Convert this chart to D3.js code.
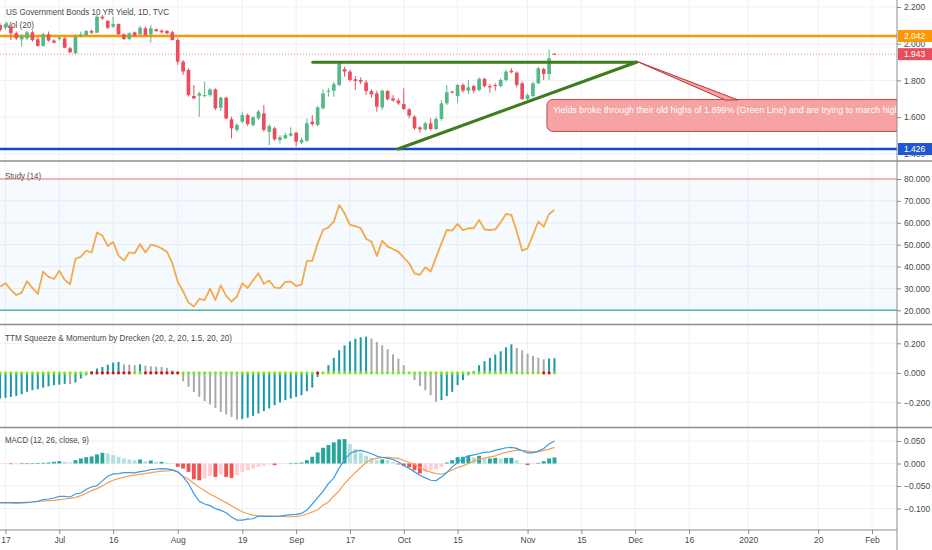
<!DOCTYPE html>
<html lang="en">
<head>
<meta charset="UTF-8">
<title>US Government Bonds 10 YR Yield, 1D, TVC</title>
<script src="https://d3js.org/d3.v7.min.js"></script>
<style>
  body { margin: 0; background: #fff; }
  svg { display: block; font-family: "Liberation Sans", Arial, sans-serif; }
  .axis text { fill: #4a4a4a; font-size: 8.5px; }
  .axis line { stroke: #888; }
  .pane-label { fill: #4a4a4a; font-size: 9px; }
</style>
</head>
<body>
<svg id="chart" width="932" height="550"></svg>
<script>
// ---- data (bar index -1 = Jun 14 2019, 0 = Jun 17, trading days) ----
const firstIndex = -1;

const tickIndex  = [0, 10, 20, 32, 44, 54, 64, 74, 84, 97, 107, 117, 127, 138, 151, 161];
const tickLabels = ["17", "Jul", "16", "Aug", "19", "Sep", "17", "Oct", "15", "Nov", "15", "Dec", "16", "2020", "20", "Feb"];

const opens = [2.102,2.087,2.093,2.057,2.024,2.029,2.062,2.024,1.988,2.051,2.017,2.026,2.029,1.975,1.948,2.042,2.047,2.069,2.060,2.147,
  2.124,2.093,2.107,2.051,2.026,2.062,2.051,2.084,2.051,2.078,2.071,2.069,2.062,2.020,1.902,1.857,1.715,1.717,1.715,1.720,
  1.751,1.651,1.706,1.588,1.530,1.575,1.611,1.557,1.593,1.620,1.520,1.539,1.475,1.484,1.499,1.515,1.461,1.471,1.575,1.557,
  1.648,1.739,1.744,1.775,1.862,1.848,1.806,1.802,1.789,1.742,1.729,1.653,1.742,1.702,1.690,1.671,1.642,1.602,1.544,1.533,
  1.566,1.535,1.590,1.675,1.739,1.715,1.775,1.744,1.769,1.748,1.808,1.769,1.775,1.769,1.802,1.853,1.842,1.784,1.699,1.715,
  1.784,1.862,1.835,1.945];
const highs = [2.111,2.115,2.102,2.066,2.051,2.071,2.071,2.033,2.060,2.066,2.024,2.042,2.035,1.984,2.051,2.066,2.075,2.078,2.157,2.157,
  2.129,2.147,2.111,2.057,2.062,2.066,2.097,2.093,2.102,2.084,2.078,2.075,2.071,2.029,1.911,1.866,1.775,1.739,1.793,1.757,
  1.757,1.711,1.711,1.602,1.566,1.630,1.620,1.606,1.639,1.666,1.562,1.548,1.502,1.515,1.544,1.520,1.490,1.593,1.611,1.660,
  1.751,1.757,1.793,1.906,1.875,1.857,1.824,1.817,1.802,1.751,1.744,1.751,1.748,1.720,1.702,1.757,1.648,1.611,1.551,1.575,
  1.593,1.602,1.693,1.775,1.744,1.780,1.784,1.802,1.777,1.817,1.815,1.780,1.784,1.811,1.860,1.866,1.849,1.793,1.729,1.793,
  1.875,1.869,1.969,1.948];
const lows = [2.066,2.078,2.020,2.020,1.984,2.020,2.011,1.984,1.984,2.011,2.002,2.017,1.975,1.948,1.944,2.035,2.042,2.053,2.057,2.129,
  2.078,2.087,2.047,2.020,2.020,2.038,2.047,2.042,2.006,2.064,2.057,2.051,2.017,1.884,1.830,1.711,1.697,1.602,1.708,1.711,
  1.639,1.633,1.588,1.484,1.520,1.566,1.551,1.548,1.584,1.520,1.448,1.471,1.457,1.479,1.493,1.439,1.453,1.466,1.551,1.551,
  1.642,1.711,1.711,1.769,1.820,1.793,1.748,1.780,1.720,1.706,1.630,1.639,1.690,1.684,1.666,1.639,1.593,1.530,1.515,1.526,
  1.526,1.530,1.580,1.666,1.729,1.679,1.733,1.726,1.729,1.739,1.762,1.733,1.744,1.762,1.793,1.839,1.762,1.693,1.693,1.708,
  1.780,1.802,1.802,1.943];
const closes = [2.075,2.106,2.057,2.029,2.042,2.062,2.020,1.988,2.051,2.017,2.006,2.033,1.978,1.953,2.038,2.051,2.069,2.060,2.147,2.138,
  2.087,2.107,2.051,2.026,2.057,2.044,2.087,2.047,2.084,2.069,2.062,2.057,2.020,1.902,1.848,1.720,1.702,1.729,1.720,1.751,
  1.648,1.706,1.593,1.539,1.557,1.611,1.562,1.599,1.630,1.530,1.551,1.479,1.490,1.502,1.511,1.466,1.475,1.566,1.562,1.653,
  1.729,1.744,1.779,1.893,1.848,1.802,1.797,1.793,1.742,1.724,1.657,1.744,1.697,1.690,1.675,1.644,1.608,1.539,1.533,1.566,
  1.535,1.590,1.675,1.735,1.733,1.775,1.744,1.762,1.744,1.808,1.769,1.762,1.769,1.802,1.848,1.844,1.775,1.699,1.720,1.784,
  1.866,1.835,1.920,1.943];

const priceTicks = [2.2, 2.0, 1.8, 1.6, 1.4];
const priceLevels = [2.042, 1.943, 1.426];          // orange line, last price, blue line
const trendLines = [[57.1, 1.899, 117.2, 1.899], [72.9, 1.426, 117.2, 1.899]];
const noteText = "Yields broke through their old highs of 1.899% (Green Line) and are trying to march higher";

const studyValues = [30.8,32.4,29.3,27.0,28.1,33.3,30.2,27.5,37.7,35.3,34.3,38.1,33.9,31.9,43.5,44.5,47.3,46.4,55.6,54.1,
  49.4,51.2,45.0,42.7,46.5,46.1,50.3,46.4,50.0,49.4,48.3,46.8,41.5,33.1,28.6,23.5,21.7,25.2,24.7,29.9,
  24.7,31.4,26.6,24.0,26.3,32.4,30.2,33.7,36.9,32.1,33.6,30.4,30.1,33.0,33.1,31.1,31.7,42.6,42.6,50.6,
  56.7,57.9,60.5,68.1,64.3,59.0,58.5,57.5,52.6,51.4,44.8,51.8,49.1,48.0,46.7,44.1,41.5,36.9,36.2,39.7,
  37.7,44.2,50.6,56.7,56.4,59.5,56.6,57.5,57.5,61.3,57.0,56.7,57.0,60.2,64.0,63.6,56.0,47.3,48.3,54.4,
  60.5,58.2,64.0,65.8];
const studyTicks = [80, 70, 60, 50, 40, 30, 20];

const ttmValues = [-0.173,-0.169,-0.162,-0.155,-0.144,-0.128,-0.117,-0.110,-0.099,-0.090,-0.083,-0.079,-0.074,-0.076,-0.065,-0.038,-0.016,0.011,0.029,0.040,
  0.056,0.070,0.074,0.058,0.056,0.052,0.058,0.049,0.045,0.043,0.040,0.034,0.018,0.007,-0.056,-0.094,-0.128,-0.162,-0.191,-0.213,
  -0.236,-0.263,-0.281,-0.297,-0.315,-0.312,-0.303,-0.290,-0.274,-0.258,-0.240,-0.218,-0.200,-0.184,-0.173,-0.162,-0.151,-0.124,-0.099,-0.027,
  0.007,0.052,0.101,0.153,0.186,0.213,0.231,0.240,0.245,0.231,0.209,0.186,0.160,0.126,0.097,0.052,0.007,-0.049,-0.088,-0.117,
  -0.151,-0.195,-0.184,-0.157,-0.128,-0.083,-0.049,-0.016,0.013,0.052,0.079,0.101,0.124,0.146,0.173,0.193,0.169,0.153,0.130,0.115,
  0.103,0.092,0.097,0.099];
const squeezeOn = [16,17,18,19,20,21,22,23,26,27,28,29,30,31,32,58,100,101];
const ttmTicks = [0.2, 0, -0.2];

const macdValues = [-0.0870,-0.0870,-0.0870,-0.0870,-0.0870,-0.0863,-0.0856,-0.0841,-0.0804,-0.0789,
  -0.0766,-0.0729,-0.0729,-0.0744,-0.0677,-0.0655,-0.0573,-0.0521,-0.0491,-0.0387,
  -0.0283,-0.0231,-0.0223,-0.0201,-0.0201,-0.0208,-0.0179,-0.0164,-0.0134,-0.0126,
  -0.0112,-0.0119,-0.0141,-0.0186,-0.0298,-0.0446,-0.0670,-0.0841,-0.0900,-0.0937,
  -0.1004,-0.1042,-0.1094,-0.1190,-0.1257,-0.1257,-0.1235,-0.1228,-0.1168,-0.1176,
  -0.1176,-0.1176,-0.1168,-0.1153,-0.1138,-0.1131,-0.1109,-0.1034,-0.0900,-0.0759,
  -0.0618,-0.0446,-0.0320,-0.0097,0.0082,0.0223,0.0275,0.0290,0.0260,0.0216,
  0.0164,0.0134,0.0112,0.0089,0.0037,-0.0052,-0.0112,-0.0186,-0.0260,-0.0320,
  -0.0372,-0.0379,-0.0298,-0.0201,-0.0074,0.0015,0.0119,0.0171,0.0193,0.0216,
  0.0246,0.0260,0.0290,0.0320,0.0350,0.0357,0.0335,0.0283,0.0238,0.0238,
  0.0275,0.0335,0.0432,0.0498];
const signalValues = [-0.0878,-0.0878,-0.0878,-0.0885,-0.0878,-0.0870,-0.0856,-0.0841,-0.0833,-0.0826,
  -0.0818,-0.0804,-0.0789,-0.0774,-0.0751,-0.0714,-0.0662,-0.0603,-0.0558,-0.0498,
  -0.0424,-0.0372,-0.0335,-0.0305,-0.0275,-0.0260,-0.0238,-0.0223,-0.0201,-0.0186,
  -0.0171,-0.0164,-0.0149,-0.0186,-0.0283,-0.0350,-0.0446,-0.0528,-0.0603,-0.0684,
  -0.0737,-0.0811,-0.0870,-0.0937,-0.1012,-0.1071,-0.1116,-0.1146,-0.1161,-0.1168,
  -0.1168,-0.1176,-0.1176,-0.1183,-0.1183,-0.1176,-0.1161,-0.1123,-0.1079,-0.1027,
  -0.0930,-0.0856,-0.0722,-0.0603,-0.0446,-0.0320,-0.0201,-0.0089,0.0022,0.0089,
  0.0112,0.0134,0.0134,0.0126,0.0112,0.0067,0.0022,-0.0022,-0.0089,-0.0149,
  -0.0193,-0.0223,-0.0238,-0.0201,-0.0141,-0.0089,-0.0052,0.0000,0.0052,0.0097,
  0.0119,0.0149,0.0171,0.0216,0.0246,0.0275,0.0298,0.0290,0.0275,0.0260,
  0.0260,0.0290,0.0320,0.0357];
const histValues = [-0.0007,-0.0007,-0.0015,-0.0007,0.0000,-0.0007,0.0000,0.0007,0.0015,0.0022,
  0.0037,0.0052,0.0037,0.0022,0.0074,0.0112,0.0141,0.0156,0.0201,0.0238,
  0.0223,0.0186,0.0149,0.0112,0.0089,0.0074,0.0089,0.0052,0.0067,0.0037,
  0.0037,0.0022,0.0000,-0.0074,-0.0112,-0.0186,-0.0350,-0.0372,-0.0335,-0.0275,
  -0.0298,-0.0246,-0.0298,-0.0320,-0.0260,-0.0186,-0.0149,-0.0112,-0.0074,-0.0052,
  -0.0022,-0.0037,-0.0015,-0.0007,0.0000,0.0015,0.0022,0.0074,0.0149,0.0246,
  0.0350,0.0409,0.0469,0.0536,0.0543,0.0432,0.0320,0.0238,0.0171,0.0126,
  0.0074,0.0089,0.0074,0.0037,-0.0022,-0.0052,-0.0089,-0.0149,-0.0223,-0.0186,
  -0.0149,-0.0126,-0.0074,0.0022,0.0074,0.0141,0.0149,0.0171,0.0134,0.0171,
  0.0112,0.0112,0.0126,0.0112,0.0126,0.0126,0.0074,0.0000,-0.0037,-0.0015,
  0.0015,0.0052,0.0112,0.0134];
const macdTicks = [0.05, 0, -0.05, -0.1];

// ---- layout ----
const axisX = 897;
const panes = { main: [0, 161], study: [161, 324.5], ttm: [324.5, 427.5], macd: [427.5, 530] };

const svg = d3.select("#chart");

const x = d3.scaleLinear().domain([0, 161]).range([5.5, 872]);
const step = x(1) - x(0);
const yMain  = d3.scaleLinear().domain([1.4, 2.2]).range([153.8, 7]);
const yStudy = d3.scaleLinear().domain([20, 80]).range([310.3, 179]);
const yTtm   = d3.scaleLinear().domain([-0.2, 0.2]).range([402.5, 343.3]);
const yMacd  = d3.scaleLinear().domain([-0.1, 0.05]).range([508.5, 441]);

const bars = opens.map((o, k) => ({ i: k + firstIndex, o: o, h: highs[k], l: lows[k], c: closes[k] }));
const idx = k => k + firstIndex;

// clip paths per pane
const defs = svg.append("defs");
Object.entries(panes).forEach(([name, [y0, y1]]) => {
  defs.append("clipPath").attr("id", "clip-" + name)
    .append("rect").attr("x", 0).attr("y", y0).attr("width", axisX).attr("height", y1 - y0);
});

// grid
const grid = svg.append("g");
Object.values(panes).forEach(([y0, y1]) => {
  grid.selectAll(null).data(tickIndex).enter().append("line")
    .attr("x1", d => x(d)).attr("x2", d => x(d)).attr("y1", y0).attr("y2", y1)
    .attr("stroke", "#eef1f6");
});
function hGrid(ticks, y) {
  grid.selectAll(null).data(ticks).enter().append("line")
    .attr("x1", 0).attr("x2", axisX).attr("y1", d => y(d)).attr("y2", d => y(d))
    .attr("stroke", "#eef1f6");
}
hGrid(priceTicks, yMain);
hGrid(ttmTicks, yTtm);
hGrid(macdTicks, yMacd);

// study band
svg.append("rect").attr("x", 0).attr("width", axisX)
  .attr("y", yStudy(80)).attr("height", yStudy(20) - yStudy(80))
  .attr("fill", "rgba(33,150,243,0.045)");
hGrid([70, 60, 50, 40, 30], yStudy);

// pane labels (drawn under the marks); widths fitted to the original
function paneLabel(tx, ty, txt, len, size) {
  svg.append("text").attr("class", "pane-label").attr("x", tx).attr("y", ty)
    .style("font-size", size + "px")
    .attr("textLength", len).attr("lengthAdjust", "spacingAndGlyphs")
    .text(txt);
}
paneLabel(6, 15, "US Government Bonds 10 YR Yield, 1D, TVC", 163, 9.6);
paneLabel(6, 28, "Vol (20)", 28, 9.4);
paneLabel(5, 179, "Study (14)", 36, 9.2);
paneLabel(5, 341, "TTM Squeeze & Momentum by Drecken (20, 2, 20, 1.5, 20, 20)", 227, 9.2);
paneLabel(5, 443, "MACD (12, 26, close, 9)", 84, 9.2);

// ---- main pane ----
const main = svg.append("g").attr("clip-path", "url(#clip-main)");

main.append("line").attr("x1", 0).attr("x2", axisX)
  .attr("y1", yMain(priceLevels[0])).attr("y2", yMain(priceLevels[0]))
  .attr("stroke", "#ff9800").attr("stroke-width", 2.5);
main.append("line").attr("x1", 0).attr("x2", axisX)
  .attr("y1", yMain(priceLevels[1])).attr("y2", yMain(priceLevels[1]))
  .attr("stroke", "#eb4d5c").attr("stroke-width", 1).attr("stroke-dasharray", "1,2").attr("opacity", 0.7);
main.append("line").attr("x1", 0).attr("x2", axisX)
  .attr("y1", yMain(priceLevels[2])).attr("y2", yMain(priceLevels[2]))
  .attr("stroke", "#1848cc").attr("stroke-width", 2.5);

const up = "#53b987", down = "#eb4d5c";
const bodyW = step * 0.68;
const candle = main.selectAll(".candle").data(bars).enter().append("g").attr("class", "candle");
candle.append("line")
  .attr("x1", d => x(d.i)).attr("x2", d => x(d.i))
  .attr("y1", d => yMain(d.h)).attr("y2", d => yMain(d.l))
  .attr("stroke", d => d.c >= d.o ? up : down).attr("stroke-width", 1);
candle.append("rect")
  .attr("x", d => x(d.i) - bodyW / 2).attr("width", bodyW)
  .attr("y", d => yMain(Math.max(d.o, d.c)))
  .attr("height", d => Math.max(1, Math.abs(yMain(d.o) - yMain(d.c))))
  .attr("fill", d => d.c >= d.o ? up : down);

main.selectAll(".trend").data(trendLines).enter().append("line")
  .attr("x1", d => x(d[0])).attr("y1", d => yMain(d[1]))
  .attr("x2", d => x(d[2])).attr("y2", d => yMain(d[3]))
  .attr("stroke", "#3f7d1c").attr("stroke-width", 3).attr("stroke-linecap", "round");

// callout
const apex = [x(117.2), yMain(1.905)];
const boxL = x(100.6), boxT = yMain(1.696), boxB = yMain(1.522);
main.append("rect").attr("x", boxL).attr("y", boxT).attr("width", 420).attr("height", boxB - boxT)
  .attr("rx", 6).attr("fill", "#f6a3a3").attr("stroke", "#c9464a").attr("stroke-width", 1);
main.append("path")
  .attr("d", `M${apex[0]},${apex[1]}L${x(133.7)},${boxT + 0.5}L${x(136.1)},${boxT + 0.5}Z`)
  .attr("fill", "#f6a3a3").attr("stroke", "#b83438").attr("stroke-width", 1);
main.append("text").attr("x", boxL + 6).attr("y", boxT + 14)
  .attr("fill", "#fff").style("font-size", "8.9px").text(noteText);

// ---- study pane ----
const study = svg.append("g").attr("clip-path", "url(#clip-study)");
study.append("line").attr("x1", 0).attr("x2", axisX).attr("y1", yStudy(80)).attr("y2", yStudy(80))
  .attr("stroke", "#ef6c6c").attr("stroke-width", 1);
study.append("line").attr("x1", 0).attr("x2", axisX).attr("y1", yStudy(20)).attr("y2", yStudy(20))
  .attr("stroke", "#4db6ac").attr("stroke-width", 1.5);
study.append("path").datum(studyValues)
  .attr("d", d3.line().x((d, k) => x(idx(k))).y(d => yStudy(d)))
  .attr("fill", "none").attr("stroke", "#f6a94a").attr("stroke-width", 1.8).attr("stroke-linejoin", "round");

// ---- TTM pane ----
const ttm = svg.append("g").attr("clip-path", "url(#clip-ttm)");
ttm.selectAll(".tb").data(ttmValues).enter().append("rect")
  .attr("x", (d, k) => x(idx(k)) - 1).attr("width", 2)
  .attr("y", d => yTtm(Math.max(0, d)))
  .attr("height", d => Math.abs(yTtm(d) - yTtm(0)))
  .attr("fill", (d, k) => (k === 0 || d >= ttmValues[k - 1]) ? "#1b98a8" : "#a9a9a9");
ttm.selectAll(".td").data(ttmValues).enter().append("circle")
  .attr("cx", (d, k) => x(idx(k))).attr("cy", yTtm(0)).attr("r", 1.6)
  .attr("fill", (d, k) => squeezeOn.includes(idx(k)) ? "#d11a1a" : "#7ee81c");

// ---- MACD pane ----
const macd = svg.append("g").attr("clip-path", "url(#clip-macd)");
macd.selectAll(".mh").data(histValues).enter().append("rect")
  .attr("x", (d, k) => x(idx(k)) - step * 0.36).attr("width", step * 0.72)
  .attr("y", d => yMacd(Math.max(0, d)))
  .attr("height", d => Math.max(0.6, Math.abs(yMacd(d) - yMacd(0))))
  .attr("fill", (d, k) => {
    const prev = k === 0 ? d : histValues[k - 1];
    if (d >= 0) return d >= prev ? "#26a69a" : "#b2dfdb";
    return d < prev ? "#ef5350" : "#ffcdd2";
  });
macd.append("path").datum(signalValues)
  .attr("d", d3.line().x((d, k) => x(idx(k))).y(d => yMacd(d)))
  .attr("fill", "none").attr("stroke", "#f4a04f").attr("stroke-width", 1.2);
macd.append("path").datum(macdValues)
  .attr("d", d3.line().x((d, k) => x(idx(k))).y(d => yMacd(d)))
  .attr("fill", "none").attr("stroke", "#3d9ae8").attr("stroke-width", 1.2);

// ---- separators & axes ----
[panes.main[1], panes.study[1], panes.ttm[1]].forEach(yy => {
  svg.append("line").attr("x1", 0).attr("x2", 932).attr("y1", yy).attr("y2", yy)
    .attr("stroke", "#8c8c8c").attr("stroke-width", 1.5);
});
svg.append("line").attr("x1", 0).attr("x2", axisX).attr("y1", 530).attr("y2", 530)
  .attr("stroke", "#8c8c8c").attr("stroke-width", 1);
svg.append("line").attr("x1", axisX).attr("x2", axisX).attr("y1", 0).attr("y2", 550)
  .attr("stroke", "#8c8c8c").attr("stroke-width", 1);

function rightAxis(scale, ticks, fmt) {
  const g = svg.append("g").attr("class", "axis").attr("transform", `translate(${axisX},0)`)
    .call(d3.axisRight(scale).tickValues(ticks).tickFormat(fmt).tickSize(4).tickPadding(3));
  g.select(".domain").remove();
  return g;
}
const f3 = d3.format(".3f");
rightAxis(yMain, priceTicks, f3);
rightAxis(yStudy, studyTicks, f3);
rightAxis(yTtm, ttmTicks, d => f3(d).replace("-", "\u2212"));
rightAxis(yMacd, macdTicks, d => f3(d).replace("-", "\u2212"));

const tAxis = svg.append("g").attr("class", "axis").attr("transform", "translate(0,530)")
  .call(d3.axisBottom(x).tickValues(tickIndex).tickFormat((d, k) => tickLabels[k]).tickSize(4).tickPadding(3));
tAxis.select(".domain").remove();

// price labels on the scale (they sit over the 2.000 / 1.400 ticks as in the original)
const levelColors = ["#ff9800", "#eb4d5c", "#1e56d6"];
priceLevels.forEach((v, k) => {
  svg.append("rect").attr("x", axisX + 1).attr("y", yMain(v) - 6).attr("width", 35).attr("height", 12)
    .attr("fill", levelColors[k]);
  svg.append("text").attr("x", axisX + 7).attr("y", yMain(v) + 3)
    .attr("fill", "#fff").style("font-size", "8.5px").text(f3(v));
});
</script>
</body>
</html>
